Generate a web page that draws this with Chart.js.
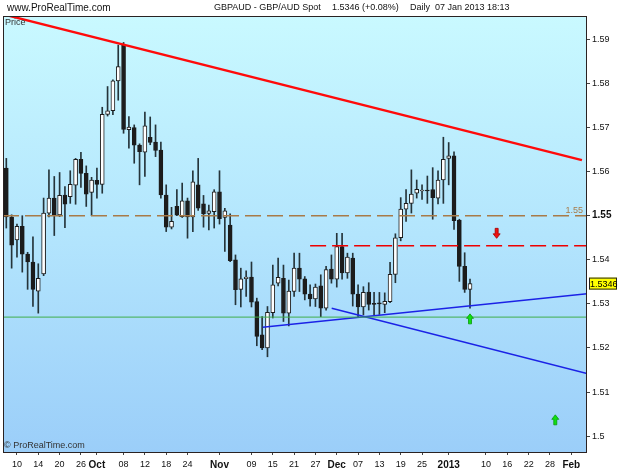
<!DOCTYPE html>
<html>
<head>
<meta charset="utf-8">
<title>GBPAUD Daily</title>
<script src="https://cdn.jsdelivr.net/npm/chart.js"></script>
<style>
  html, body { margin: 0; padding: 0; background: #fff; }
  #wrap { position: relative; width: 625px; height: 469px; }
</style>
</head>
<body>
<div id="wrap"><canvas id="gbpaud"></canvas></div>
<script>
// daily candles, 06 Sep 2012 .. 07 Jan 2013
const dates = [
  '06 Sep','07 Sep','10 Sep','11 Sep','12 Sep','13 Sep','14 Sep','17 Sep','18 Sep','19 Sep','20 Sep','21 Sep',
  '24 Sep','25 Sep','26 Sep','27 Sep','28 Sep',
  '01 Oct','02 Oct','03 Oct','04 Oct','05 Oct','08 Oct','09 Oct','10 Oct','11 Oct','12 Oct','15 Oct','16 Oct',
  '17 Oct','18 Oct','19 Oct','22 Oct','23 Oct','24 Oct','25 Oct','26 Oct','29 Oct','30 Oct','31 Oct',
  '01 Nov','02 Nov','05 Nov','06 Nov','07 Nov','08 Nov','09 Nov','12 Nov','13 Nov','14 Nov','15 Nov','16 Nov',
  '19 Nov','20 Nov','21 Nov','22 Nov','23 Nov','26 Nov','27 Nov','28 Nov','29 Nov','30 Nov',
  '03 Dec','04 Dec','05 Dec','06 Dec','07 Dec','10 Dec','11 Dec','12 Dec','13 Dec','14 Dec','17 Dec','18 Dec',
  '19 Dec','20 Dec','21 Dec','24 Dec','25 Dec','26 Dec','27 Dec','28 Dec','31 Dec',
  '01 Jan','02 Jan','03 Jan','04 Jan','07 Jan'
];
const opens = [
  1.5608,1.5497,1.5445,1.5476,1.5413,1.5395,1.5329,1.5368,1.5506,1.5540,1.5502,1.5547,
  1.5543,1.5569,1.5628,1.5596,1.5553,
  1.5580,1.5571,1.5730,1.5738,1.5806,1.5887,1.5695,1.5700,1.5660,1.5644,1.5678,1.5667,
  1.5649,1.5547,1.5474,1.5521,1.5498,1.5534,1.5497,1.5570,1.5527,1.5505,1.5509,
  1.5554,1.5496,1.5479,1.5400,1.5333,1.5357,1.5361,1.5305,1.5230,1.5200,1.5280,1.5347,
  1.5358,1.5279,1.5328,1.5381,1.5357,1.5322,1.5311,1.5341,1.5290,1.5379,
  1.5356,1.5430,1.5370,1.5404,1.5322,1.5293,1.5327,1.5300,1.5301,1.5299,1.5305,1.5367,
  1.5450,1.5515,1.5528,1.5551,1.5556,1.5557,1.5559,1.5540,1.5581,
  1.5630,1.5636,1.5490,1.5385,1.5333
];
const highs = [
  1.5630,1.5502,1.5481,1.5500,1.5417,1.5452,1.5391,1.5540,1.5604,1.5589,1.5598,1.5566,
  1.5602,1.5630,1.5644,1.5613,1.5587,
  1.5608,1.5746,1.5793,1.5808,1.5887,1.5893,1.5725,1.5706,1.5663,1.5735,1.5724,1.5706,
  1.5667,1.5570,1.5519,1.5559,1.5574,1.5540,1.5602,1.5630,1.5546,1.5524,1.5559,
  1.5602,1.5517,1.5504,1.5411,1.5381,1.5375,1.5395,1.5313,1.5271,1.5294,1.5388,1.5404,
  1.5388,1.5354,1.5415,1.5415,1.5362,1.5343,1.5345,1.5366,1.5385,1.5411,
  1.5460,1.5460,1.5415,1.5415,1.5343,1.5339,1.5348,1.5326,1.5326,1.5325,1.5394,1.5459,
  1.5541,1.5559,1.5604,1.5581,1.5570,1.5590,1.5609,1.5602,1.5678,
  1.5666,1.5645,1.5492,1.5416,1.5356
];
const lows = [
  1.5472,1.5381,1.5406,1.5372,1.5333,1.5294,1.5279,1.5364,1.5497,1.5455,1.5498,1.5473,
  1.5528,1.5526,1.5564,1.5521,1.5500,
  1.5540,1.5551,1.5726,1.5729,1.5762,1.5687,1.5653,1.5619,1.5570,1.5589,1.5661,1.5634,
  1.5540,1.5464,1.5470,1.5500,1.5496,1.5449,1.5464,1.5512,1.5474,1.5468,1.5472,
  1.5481,1.5419,1.5396,1.5298,1.5293,1.5317,1.5293,1.5205,1.5196,1.5180,1.5268,1.5341,
  1.5260,1.5250,1.5317,1.5328,1.5309,1.5295,1.5294,1.5271,1.5286,1.5347,
  1.5338,1.5356,1.5358,1.5295,1.5270,1.5275,1.5286,1.5275,1.5276,1.5280,1.5303,1.5348,
  1.5443,1.5487,1.5506,1.5540,1.5537,1.5528,1.5492,1.5527,1.5528,
  1.5570,1.5469,1.5351,1.5326,1.5290
];
const closes = [
  1.5497,1.5433,1.5476,1.5413,1.5395,1.5333,1.5358,1.5506,1.5540,1.5502,1.5546,1.5526,
  1.5571,1.5628,1.5596,1.5549,1.5581,
  1.5571,1.5730,1.5738,1.5806,1.5838,1.5696,1.5701,1.5660,1.5645,1.5704,1.5666,1.5648,
  1.5547,1.5474,1.5487,1.5501,1.5534,1.5497,1.5577,1.5517,1.5504,1.5511,1.5554,
  1.5493,1.5511,1.5398,1.5332,1.5357,1.5361,1.5304,1.5226,1.5200,1.5281,1.5343,1.5360,
  1.5279,1.5329,1.5381,1.5356,1.5322,1.5311,1.5338,1.5290,1.5378,1.5356,
  1.5430,1.5370,1.5406,1.5322,1.5293,1.5326,1.5299,1.5299,1.5300,1.5306,1.5367,1.5450,
  1.5515,1.5528,1.5549,1.5560,1.5557,1.5556,1.5541,1.5581,1.5628,
  1.5636,1.5489,1.5385,1.5333,1.5346
];

// x axis: trading-day slots (0 = 06 Sep), axis runs into Feb
const xTickSlots = [2,6,10,14,17,22,26,30,34,40,46,50,54,58,62,66,70,74,78,83,90,94,98,102,106];
const xTickText  = ['10','14','20','26','Oct','08','12','18','24','Nov','09','15','21','27','Dec','07','13','19','25','2013','10','16','22','28','Feb'];
const xBoldText  = ['Oct','Nov','Dec','2013','Feb'];
const yTicks = [1.50,1.51,1.52,1.53,1.54,1.55,1.56,1.57,1.58,1.59];

// drawn levels and trend lines
const level155 = 1.55;
const resistLevel = 1.5432, resistFrom = 57;
const supportLevel = 1.5270;
const redTrendX = [0, 108],      redTrendY = [1.5955, 1.5626];
const blueUpX = [48.1, 108.95],  blueUpY = [1.5247, 1.5323];
const blueDnX = [61.05, 108.95], blueDnY = [1.5290, 1.5142];

// signal arrows
const arrowSlots = [92, 87, 103];
const arrowPrices = [1.5460, 1.5266, 1.5037];
const arrowDirs = ['down', 'up', 'up'];

const lastPrice = closes[closes.length - 1];

const xMin = -0.62, xMax = 108.95;
const yMin = 1.4964, yMax = 1.5953;

Chart.defaults.font.family = "'Liberation Sans', Arial, sans-serif";

const wickData = dates.map((d, i) => ({ x: i, y: [lows[i], highs[i]] }));
const bodyData = dates.map((d, i) => ({ x: i, y: [opens[i], closes[i]] }));
const bodyFill = dates.map((d, i) => closes[i] >= opens[i] ? '#ffffff' : '#1c1c1c');

function seg(xs, ys) {
  return xs.map((x, k) => ({ x: x, y: ys[k] }));
}

function lineSet(data, color, width, dash) {
  return {
    type: 'line', data: data, borderColor: color, borderWidth: width,
    borderDash: dash || [], pointRadius: 0, tension: 0, fill: false, clip: 0, order: -1
  };
}

const chrome = {
  id: 'chrome',
  beforeDraw(chart) {
    const { ctx, chartArea: a } = chart;
    ctx.save();
    ctx.fillStyle = '#ffffff';
    ctx.fillRect(0, 0, chart.width, chart.height);
    const g = ctx.createLinearGradient(0, a.top, 0, a.bottom);
    g.addColorStop(0, '#c9f9ff');
    g.addColorStop(0.5, '#b3e5fd');
    g.addColorStop(1, '#9bcef9');
    ctx.fillStyle = g;
    ctx.fillRect(a.left, a.top, a.right - a.left, a.bottom - a.top);
    ctx.restore();
  },
  afterDraw(chart) {
    const { ctx, chartArea: a, scales } = chart;
    const xs = scales.x, ys = scales.y;
    ctx.save();

    // frame
    ctx.strokeStyle = '#2a2222';
    ctx.lineWidth = 1;
    ctx.strokeRect(a.left + 0.5, a.top + 0.5, a.right - a.left - 1, a.bottom - a.top);

    // header
    ctx.fillStyle = '#111';
    ctx.textBaseline = 'middle';
    ctx.font = "10px 'Liberation Sans', Arial, sans-serif";
    ctx.fillText('www.ProRealTime.com', 7, 8);
    ctx.font = "9px 'Liberation Sans', Arial, sans-serif";
    ctx.fillText('GBPAUD - GBP/AUD Spot', 214, 8);
    ctx.fillText('1.5346 (+0.08%)', 332, 8);
    ctx.fillText('Daily  07 Jan 2013 18:13', 410, 8);

    ctx.fillStyle = '#333';
    ctx.fillText('Price', a.left + 2, a.top + 7);
    ctx.fillText('\u00a9 ProRealTime.com', a.left + 1, a.bottom - 6);

    // level label
    ctx.fillStyle = '#a87a48';
    ctx.textAlign = 'right';
    ctx.fillText('1.55', a.right - 4, ys.getPixelForValue(level155) - 5);
    ctx.textAlign = 'left';

    // arrows
    arrowSlots.forEach((s, k) => {
      const x = xs.getPixelForValue(s), y = ys.getPixelForValue(arrowPrices[k]);
      const up = arrowDirs[k] === 'up';
      const d = up ? 1 : -1;
      ctx.beginPath();
      ctx.moveTo(x, y - 5 * d);
      ctx.lineTo(x + 3.5, y - 0.5 * d);
      ctx.lineTo(x + 1.5, y - 0.5 * d);
      ctx.lineTo(x + 1.5, y + 5 * d);
      ctx.lineTo(x - 1.5, y + 5 * d);
      ctx.lineTo(x - 1.5, y - 0.5 * d);
      ctx.lineTo(x - 3.5, y - 0.5 * d);
      ctx.closePath();
      ctx.fillStyle = up ? '#10e010' : '#f01010';
      ctx.fill();
      ctx.strokeStyle = up ? '#0a9a0a' : '#a00000';
      ctx.lineWidth = 0.8;
      ctx.stroke();
    });

    // last price box
    const py = ys.getPixelForValue(lastPrice);
    ctx.fillStyle = '#ffff00';
    ctx.fillRect(a.right + 2, py - 6, 28, 12);
    ctx.strokeStyle = '#222';
    ctx.lineWidth = 1;
    ctx.strokeRect(a.right + 2.5, py - 5.5, 27, 11);
    ctx.fillStyle = '#000';
    ctx.font = "9px 'Liberation Sans', Arial, sans-serif";
    ctx.fillText(lastPrice.toFixed(4), a.right + 3, py + 0.5);

    ctx.restore();
  }
};

new Chart(document.getElementById('gbpaud'), {
  type: 'bar',
  data: {
    datasets: [
      lineSet(seg([xMin, xMax], [level155, level155]), '#a87a48', 1.6, [16, 6]),
      lineSet(seg([resistFrom, xMax], [resistLevel, resistLevel]), '#ee0000', 1.6, [16, 6]),
      lineSet(seg([xMin, xMax], [supportLevel, supportLevel]), '#3fae4a', 1),
      lineSet(seg(redTrendX, redTrendY), '#ff0a0a', 2.4),
      lineSet(seg(blueUpX, blueUpY), '#1b22e6', 1.4),
      lineSet(seg(blueDnX, blueDnY), '#1b22e6', 1.4),
      {
        label: 'body', data: bodyData, backgroundColor: bodyFill,
        borderColor: '#1c1c1c', borderWidth: 1, borderSkipped: false,
        barThickness: 4, minBarLength: 1, grouped: false, order: 0
      },
      {
        label: 'wick', data: wickData, backgroundColor: '#25343a',
        borderWidth: 0, barThickness: 1, grouped: false, order: 1
      }
    ]
  },
  options: {
    responsive: true,
    maintainAspectRatio: false,
    animation: false,
    events: [],
    layout: { padding: { left: 3, top: 16, right: 0, bottom: 0 } },
    plugins: { legend: { display: false }, tooltip: { enabled: false } },
    scales: {
      x: {
        type: 'linear', min: xMin, max: xMax, offset: false,
        grid: { offset: false, drawOnChartArea: false, drawTicks: true, tickLength: 3, color: '#444' },
        border: { display: false },
        afterBuildTicks: (s) => { s.ticks = xTickSlots.map(v => ({ value: v })); },
        afterFit: (s) => { s.height = 17; },
        ticks: {
          autoSkip: false, maxRotation: 0, padding: 4, color: '#111',
          callback: (v) => { const k = xTickSlots.indexOf(v); return k >= 0 ? xTickText[k] : ''; },
          font: (c) => {
            const k = c.tick ? xTickSlots.indexOf(c.tick.value) : -1;
            const bold = k >= 0 && xBoldText.includes(xTickText[k]);
            return { size: bold ? 10 : 9, weight: bold ? 'bold' : 'normal' };
          }
        }
      },
      y: {
        position: 'right', min: yMin, max: yMax,
        grid: { drawOnChartArea: false, drawTicks: true, tickLength: 3, color: '#444' },
        border: { display: false },
        afterBuildTicks: (s) => { s.ticks = yTicks.map(v => ({ value: v })); },
        afterFit: (s) => { s.width = 38; },
        ticks: {
          padding: 2, color: '#111',
          callback: (v) => String(+v.toFixed(2)),
          font: (c) => {
            const bold = c.tick && Math.abs(c.tick.value - level155) < 1e-6;
            return { size: bold ? 10 : 9, weight: bold ? 'bold' : 'normal' };
          }
        }
      }
    }
  },
  plugins: [chrome]
});
</script>
</body>
</html>
